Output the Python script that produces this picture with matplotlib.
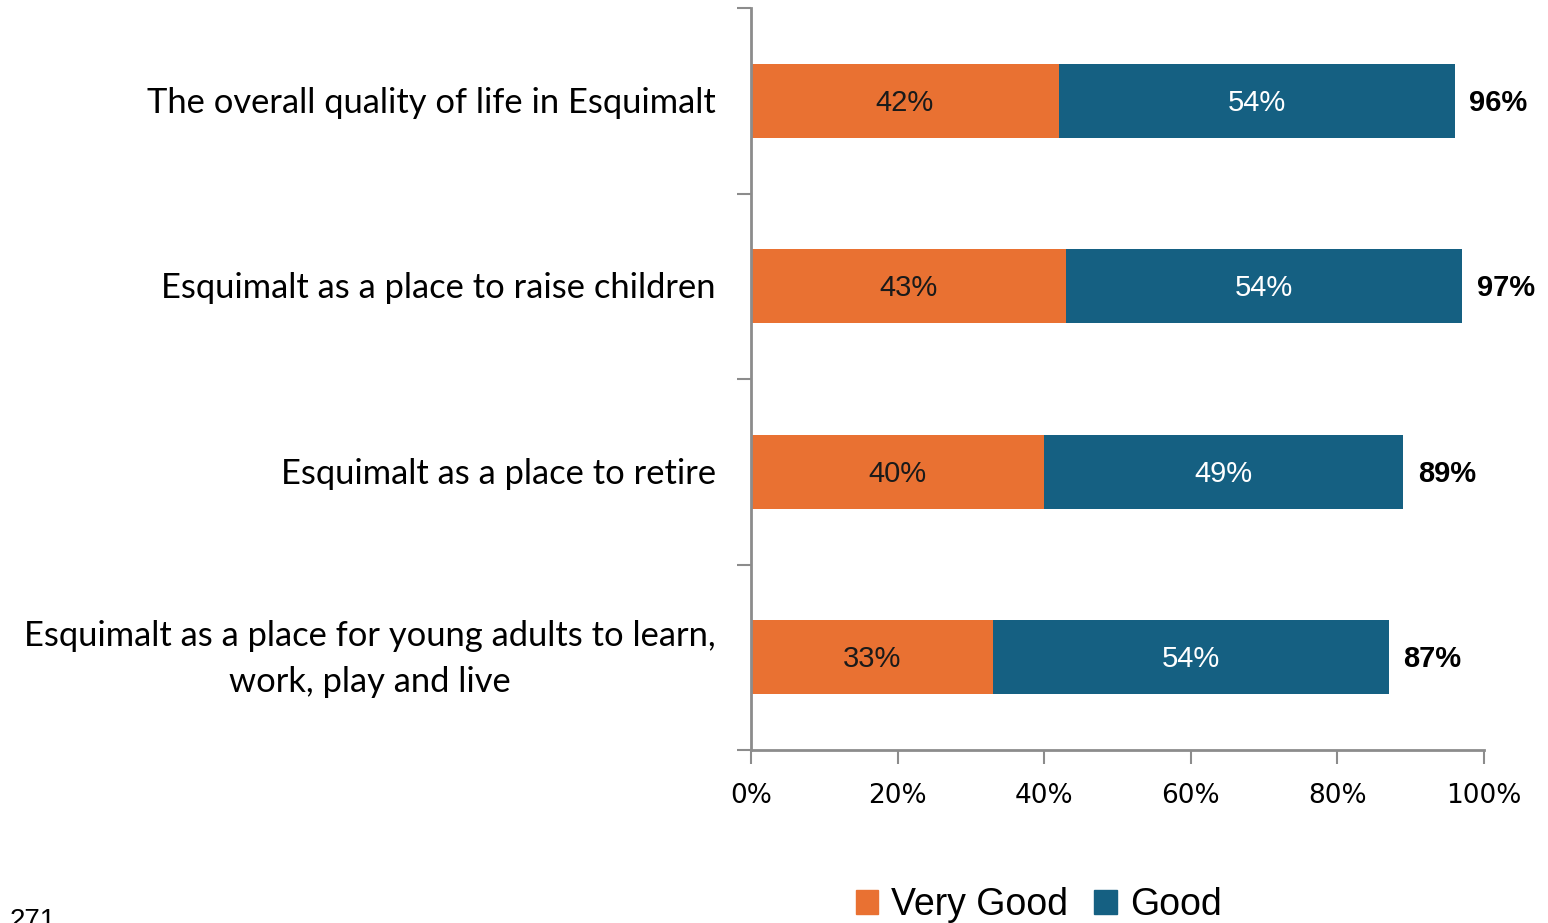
import matplotlib.pyplot as plt
import numpy as np
from matplotlib.patches import Patch

# Chart data (top to bottom)
categories = ['The overall quality of life in Esquimalt',
              'Esquimalt as a place to raise children',
              'Esquimalt as a place to retire',
              'Esquimalt as a place for young adults to learn,\nwork, play and live']
very_good = [42, 43, 40, 33]
good = [54, 54, 49, 54]
totals = [96, 97, 89, 87]
x_ticks = [0, 20, 40, 60, 80, 100]

orange = '#E97132'
blue = '#156082'
axis_gray = '#8C8C8C'

fig = plt.figure(figsize=(15.48, 9.23), dpi=100)
ax = fig.add_axes([0.4851, 0.1874, 0.4735, 0.8039])

y = np.arange(len(categories))
ax.barh(y, very_good, height=0.4, color=orange)
ax.barh(y, good, left=very_good, height=0.4, color=blue)

for i in range(len(categories)):
    ax.text(very_good[i] / 2, y[i] + 0.01, f'{very_good[i]}%', ha='center', va='center',
            fontsize=21, color='#1a1a1a', family='Liberation Sans')
    ax.text(very_good[i] + good[i] / 2, y[i] + 0.01, f'{good[i]}%', ha='center', va='center',
            fontsize=21, color='white', family='Liberation Sans')
    ax.text(totals[i] + 2, y[i] + 0.01, f'{totals[i]}%', ha='left', va='center',
            fontsize=21, fontweight='bold', color='black', family='Liberation Sans')

ax.set_xlim(0, 100)
ax.set_ylim(len(categories) - 0.5, -0.5)

# category labels to the left of the axis
ax.set_yticks([])
for i, c in enumerate(categories):
    ax.text(-4.8, y[i] + 0.01, c, ha='right', va='center', multialignment='center',
            fontsize=24.8, family='Lato', linespacing=1.55)
ax.set_yticks(np.arange(-0.5, len(categories), 1), minor=True)
ax.tick_params(axis='y', which='minor', length=10, width=1.5, color=axis_gray, direction='out')

ax.set_xticks(x_ticks)
ax.set_xticklabels([f'{t}%' for t in x_ticks], fontsize=19, family='Liberation Sans Narrow')
ax.tick_params(axis='x', length=10, width=1.5, color=axis_gray, pad=14)

for s in ['top', 'right']:
    ax.spines[s].set_visible(False)
for s in ['left', 'bottom']:
    ax.spines[s].set_color(axis_gray)
    ax.spines[s].set_linewidth(2)

handles = [Patch(color=orange, label='Very Good'), Patch(color=blue, label='Good')]
fig.legend(handles=handles, loc='center', bbox_to_anchor=(0.671, 0.019), ncol=2,
           frameon=False, handlelength=0.6, handleheight=0.6,
           handletextpad=0.35, columnspacing=0.7, prop={'family': 'Liberation Sans', 'size': 27})

fig.text(0.006, -0.012, '271', fontsize=20, family='Liberation Sans', va='bottom')

fig.savefig('out.png', dpi=100)
